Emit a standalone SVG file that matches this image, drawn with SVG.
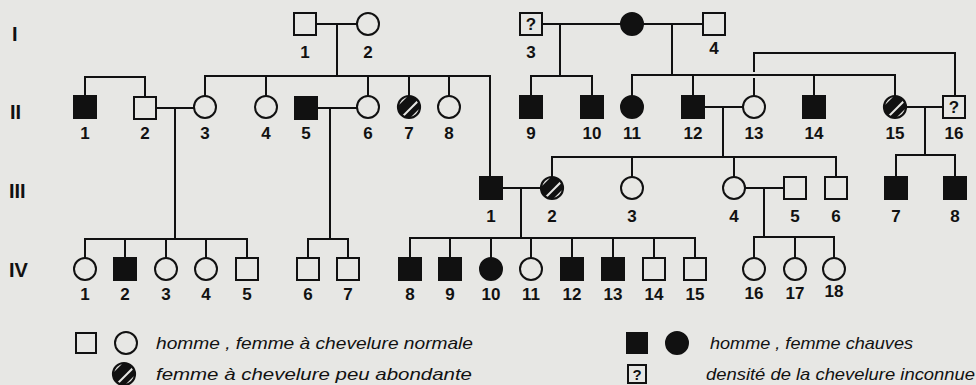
<svg xmlns="http://www.w3.org/2000/svg" xmlns:xlink="http://www.w3.org/1999/xlink" width="976" height="385" viewBox="0 0 976 385">
<style>
.ln{stroke:#111;stroke-width:2;fill:none}
.sq{stroke:#111;stroke-width:2;fill:#e7e7e4}
.ci{stroke:#111;stroke-width:2;fill:#e7e7e4}
.f{fill:#111;stroke:#111;stroke-width:2}
.num{font-family:"Liberation Sans",Arial,sans-serif;font-weight:bold;font-size:17px;fill:#111;text-anchor:middle}
.gen{font-family:"Liberation Sans",Arial,sans-serif;font-weight:bold;font-size:20px;fill:#111}
.q{font-family:"Liberation Sans",Arial,sans-serif;font-weight:bold;font-size:17px;fill:#111;text-anchor:middle}
.leg{font-family:"Liberation Sans",Arial,sans-serif;font-style:italic;font-size:17px;fill:#111}
</style>
<defs>
<clipPath id="cc"><circle cx="0" cy="0" r="11"/></clipPath>
<g id="hatch">
<circle cx="0" cy="0" r="11" fill="#e7e7e4"/>
<g clip-path="url(#cc)">
<rect x="-20" y="-8.5" width="40" height="17" fill="#111" transform="rotate(-45)"/>
<line x1="-14" y1="14" x2="14" y2="-14" stroke="#e7e7e4" stroke-width="2" transform="translate(1.5,1.5)"/>
</g>
<circle cx="0" cy="0" r="11" fill="none" stroke="#111" stroke-width="2.2"/>
</g>
</defs>
<rect x="0" y="0" width="976" height="385" fill="#e7e7e4"/>

<g id="generations">
<text class="gen" x="12" y="41">I</text>
<text class="gen" x="10" y="119">II</text>
<text class="gen" x="9" y="198">III</text>
<text class="gen" x="9" y="277">IV</text>
</g>

<g id="connectors">
<path class="ln" d="M316 24H357 M337 24V76"/>
<path class="ln" d="M542 24H621 M643 24H703 M560 24V76 M672 24V75"/>
<path class="ln" d="M85 96V77H145V96"/>
<path class="ln" d="M205 96V76H490V177 M266 76V96 M368 76V96 M409 76V96 M449 76V96"/>
<path class="ln" d="M531 96V76H592V96"/>
<path class="ln" d="M632 96V75H895V96 M693 75V96 M814 75V96"/>
<path class="ln" d="M754 72V53H955V96 M754 78V96"/>
<path class="ln" d="M156 108H194 M175 108V239"/>
<path class="ln" d="M317 108H357 M330 108V239"/>
<path class="ln" d="M704 107H743 M723 107V157"/>
<path class="ln" d="M906 107H943 M925 107V155"/>
<path class="ln" d="M552 177V157H836V177 M632 157V177 M734 157V177"/>
<path class="ln" d="M896 177V155H955V177"/>
<path class="ln" d="M502 188H541 M521 188V238"/>
<path class="ln" d="M745 188H784 M764 188V237"/>
<path class="ln" d="M85 258V239H247V258 M125 239V258 M166 239V258 M206 239V258"/>
<path class="ln" d="M308 258V239H348V258"/>
<path class="ln" d="M410 258V238H695V258 M450 238V258 M491 238V258 M531 238V258 M572 238V258 M613 238V258 M654 238V258"/>
<path class="ln" d="M754 258V237H834V258 M795 237V258"/>
</g>

<g id="I-1"><rect class="sq" x="294" y="13" width="22" height="22"/><text class="num" x="305" y="58">1</text></g>
<g id="I-2"><circle class="ci" cx="368" cy="24" r="11"/><text class="num" x="368" y="58">2</text></g>
<g id="I-3"><rect class="sq" x="520" y="13" width="22" height="22"/><text class="q" x="531" y="30">?</text><text class="num" x="531" y="58">3</text></g>
<g id="I-3-mate"><circle class="f" cx="632" cy="24" r="11"/></g>
<g id="I-4"><rect class="sq" x="703" y="13" width="22" height="22"/><text class="num" x="714" y="54">4</text></g>

<g id="II-1"><rect class="f" x="74" y="96" width="22" height="22"/><text class="num" x="85" y="139">1</text></g>
<g id="II-2"><rect class="sq" x="134" y="97" width="22" height="22"/><text class="num" x="145" y="139">2</text></g>
<g id="II-3"><circle class="ci" cx="205" cy="107" r="11"/><text class="num" x="205" y="139">3</text></g>
<g id="II-4"><circle class="ci" cx="266" cy="107" r="11"/><text class="num" x="266" y="139">4</text></g>
<g id="II-5"><rect class="f" x="295" y="97" width="22" height="22"/><text class="num" x="306" y="139">5</text></g>
<g id="II-6"><circle class="ci" cx="368" cy="107" r="11"/><text class="num" x="368" y="139">6</text></g>
<g id="II-7"><use xlink:href="#hatch" x="409" y="107"/><text class="num" x="409" y="139">7</text></g>
<g id="II-8"><circle class="ci" cx="449" cy="107" r="11"/><text class="num" x="449" y="139">8</text></g>
<g id="II-9"><rect class="f" x="520" y="96" width="22" height="22"/><text class="num" x="531" y="139">9</text></g>
<g id="II-10"><rect class="f" x="581" y="96" width="22" height="22"/><text class="num" x="592" y="139">10</text></g>
<g id="II-11"><circle class="f" cx="632" cy="107" r="11"/><text class="num" x="632" y="139">11</text></g>
<g id="II-12"><rect class="f" x="682" y="96" width="22" height="22"/><text class="num" x="693" y="139">12</text></g>
<g id="II-13"><circle class="ci" cx="754" cy="107" r="11"/><text class="num" x="754" y="139">13</text></g>
<g id="II-14"><rect class="f" x="803" y="96" width="22" height="22"/><text class="num" x="814" y="139">14</text></g>
<g id="II-15"><use xlink:href="#hatch" x="895" y="107"/><text class="num" x="895" y="139">15</text></g>
<g id="II-16"><rect class="sq" x="943" y="96" width="22" height="22"/><text class="q" x="954" y="113">?</text><text class="num" x="954" y="139">16</text></g>

<g id="III-1"><rect class="f" x="480" y="177" width="22" height="22"/><text class="num" x="491" y="222">1</text></g>
<g id="III-2"><use xlink:href="#hatch" x="552" y="188"/><text class="num" x="552" y="222">2</text></g>
<g id="III-3"><circle class="ci" cx="632" cy="188" r="11"/><text class="num" x="632" y="222">3</text></g>
<g id="III-4"><circle class="ci" cx="734" cy="188" r="11"/><text class="num" x="734" y="222">4</text></g>
<g id="III-5"><rect class="sq" x="784" y="177" width="22" height="22"/><text class="num" x="795" y="222">5</text></g>
<g id="III-6"><rect class="sq" x="825" y="177" width="22" height="22"/><text class="num" x="836" y="222">6</text></g>
<g id="III-7"><rect class="f" x="885" y="177" width="22" height="22"/><text class="num" x="896" y="222">7</text></g>
<g id="III-8"><rect class="f" x="944" y="177" width="22" height="22"/><text class="num" x="955" y="222">8</text></g>

<g id="IV-1"><circle class="ci" cx="85" cy="269" r="11"/><text class="num" x="85" y="300">1</text></g>
<g id="IV-2"><rect class="f" x="114" y="258" width="22" height="22"/><text class="num" x="125" y="300">2</text></g>
<g id="IV-3"><circle class="ci" cx="166" cy="269" r="11"/><text class="num" x="166" y="300">3</text></g>
<g id="IV-4"><circle class="ci" cx="206" cy="269" r="11"/><text class="num" x="206" y="300">4</text></g>
<g id="IV-5"><rect class="sq" x="236" y="258" width="22" height="22"/><text class="num" x="247" y="300">5</text></g>
<g id="IV-6"><rect class="sq" x="297" y="258" width="22" height="22"/><text class="num" x="308" y="300">6</text></g>
<g id="IV-7"><rect class="sq" x="337" y="258" width="22" height="22"/><text class="num" x="348" y="300">7</text></g>
<g id="IV-8"><rect class="f" x="399" y="258" width="22" height="22"/><text class="num" x="410" y="300">8</text></g>
<g id="IV-9"><rect class="f" x="439" y="258" width="22" height="22"/><text class="num" x="450" y="300">9</text></g>
<g id="IV-10"><circle class="f" cx="491" cy="269" r="11"/><text class="num" x="491" y="300">10</text></g>
<g id="IV-11"><circle class="ci" cx="531" cy="269" r="11"/><text class="num" x="531" y="300">11</text></g>
<g id="IV-12"><rect class="f" x="561" y="258" width="22" height="22"/><text class="num" x="572" y="300">12</text></g>
<g id="IV-13"><rect class="f" x="602" y="258" width="22" height="22"/><text class="num" x="613" y="300">13</text></g>
<g id="IV-14"><rect class="sq" x="643" y="258" width="22" height="22"/><text class="num" x="654" y="300">14</text></g>
<g id="IV-15"><rect class="sq" x="684" y="258" width="22" height="22"/><text class="num" x="695" y="300">15</text></g>
<g id="IV-16"><circle class="ci" cx="754" cy="269" r="11"/><text class="num" x="754" y="299">16</text></g>
<g id="IV-17"><circle class="ci" cx="795" cy="269" r="11"/><text class="num" x="795" y="299">17</text></g>
<g id="IV-18"><circle class="ci" cx="834" cy="269" r="11"/><text class="num" x="834" y="297">18</text></g>

<g id="legend-normal">
<rect class="sq" x="76" y="333" width="20" height="20"/>
<circle class="ci" cx="126" cy="343" r="11"/>
<text class="leg" x="156" y="349" textLength="317" lengthAdjust="spacingAndGlyphs">homme , femme à chevelure normale</text>
</g>
<g id="legend-sparse">
<use xlink:href="#hatch" x="124" y="374"/>
<text class="leg" x="156" y="380" textLength="316" lengthAdjust="spacingAndGlyphs">femme à chevelure peu abondante</text>
</g>
<g id="legend-bald">
<rect class="f" x="627" y="333" width="20" height="20"/>
<circle class="f" cx="677" cy="343" r="11"/>
<text class="leg" x="710" y="349" textLength="203" lengthAdjust="spacingAndGlyphs">homme , femme chauves</text>
</g>
<g id="legend-unknown">
<rect class="sq" x="628" y="365" width="18" height="18"/>
<text class="q" x="637" y="380" style="font-size:15px">?</text>
<text class="leg" x="706" y="380" textLength="269" lengthAdjust="spacingAndGlyphs">densité de la chevelure inconnue</text>
</g>
</svg>
